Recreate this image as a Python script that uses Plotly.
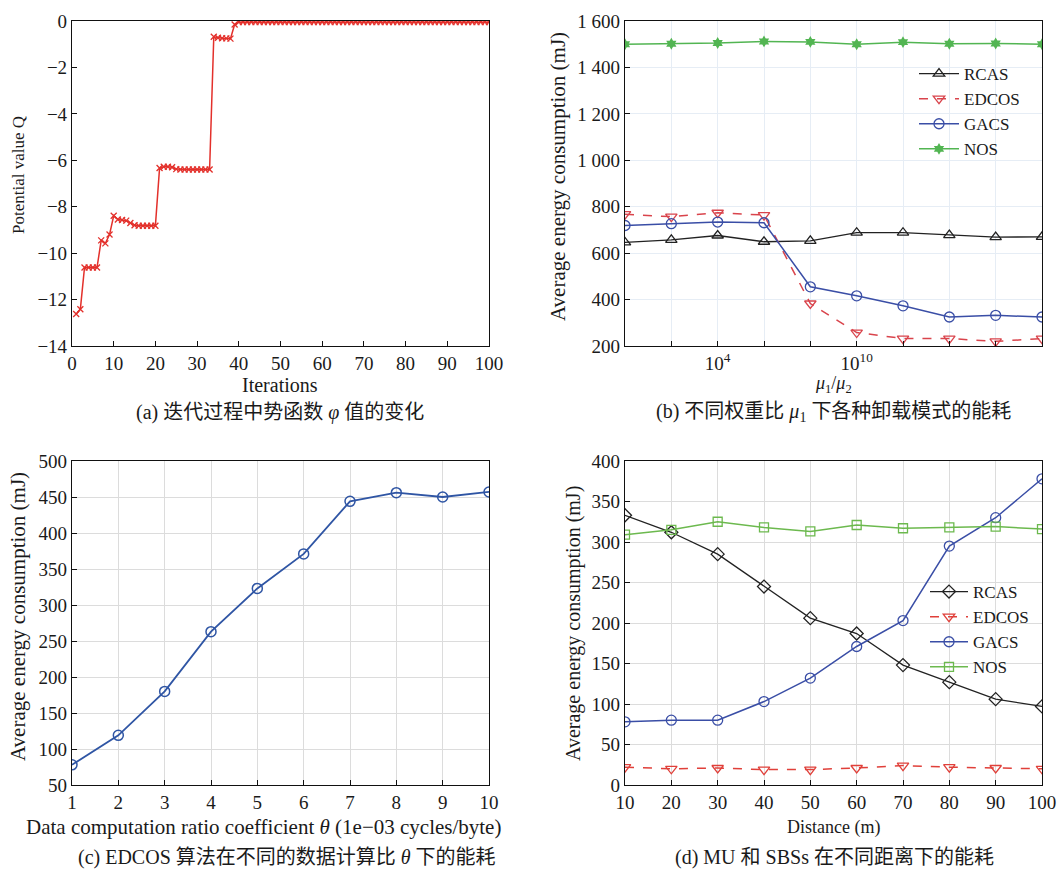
import plotly.graph_objects as go

# ---------------- data ----------------
# (a) potential value over iterations
iters = list(range(1, 101))
potential_q = [
    -12.62, -12.42, -10.62, -10.62, -10.62, -10.62, -9.45, -9.58, -9.20, -8.39,
    -8.55, -8.57, -8.60, -8.70, -8.80, -8.82, -8.82, -8.82, -8.82, -8.82,
    -6.33, -6.28, -6.28, -6.30, -6.38, -6.40, -6.40, -6.40, -6.40, -6.40,
    -6.40, -6.40, -6.40, -0.68, -0.72, -0.74, -0.75, -0.76, -0.15, -0.05,
    -0.05, -0.05, -0.05, -0.05, -0.05, -0.05, -0.05, -0.05, -0.05, -0.05,
    -0.05, -0.05, -0.05, -0.05, -0.05, -0.05, -0.05, -0.05, -0.05, -0.05,
    -0.05, -0.05, -0.05, -0.05, -0.05, -0.05, -0.05, -0.05, -0.05, -0.05,
    -0.05, -0.05, -0.05, -0.05, -0.05, -0.05, -0.05, -0.05, -0.05, -0.05,
    -0.05, -0.05, -0.05, -0.05, -0.05, -0.05, -0.05, -0.05, -0.05, -0.05,
    -0.05, -0.05, -0.05, -0.05, -0.05, -0.05, -0.05, -0.05, -0.05, -0.05,
]

# (b) weight ratio mu1/mu2
mu_ratio = [1e0, 1e2, 1e4, 1e6, 1e8, 1e10, 1e12, 1e14, 1e16, 1e18]
b_rcas = [646, 657, 676, 649, 653, 688, 688, 678, 669, 670]
b_edcos = [768, 757, 774, 764, 383, 258, 232, 232, 220, 232]
b_gacs = [719, 727, 734, 731, 455, 416, 373, 325, 332, 325]
b_nos = [1500, 1502, 1505, 1512, 1510, 1500, 1509, 1502, 1503, 1500]
b_yticks = [200, 400, 600, 800, 1000, 1200, 1400, 1600]
b_yticktext = ["200", "400", "600", "800", "1 000", "1 200", "1 400", "1 600"]
b_xticktext = ["", "", "10<sup>4</sup>", "", "", "10<sup>10</sup>", "", "", "", ""]

# (c) data computation ratio coefficient
theta = [1, 2, 3, 4, 5, 6, 7, 8, 9, 10]
c_energy = [78, 119, 180, 263, 323, 371, 444, 456, 450, 457]

# (d) distance
distance = [10, 20, 30, 40, 50, 60, 70, 80, 90, 100]
d_rcas = [333, 312, 285, 245, 206, 187, 148, 127, 106, 97]
d_edcos = [22, 20, 21, 19, 19, 21, 24, 22, 21, 20]
d_gacs = [78, 80, 80, 103, 132, 171, 203, 295, 330, 378]
d_nos = [309, 315, 325, 318, 313, 321, 317, 318, 319, 316]

captions = [
    "(a) 迭代过程中势函数 <i>φ</i> 值的变化",
    "(b) 不同权重比 <i>μ</i><sub>1</sub> 下各种卸载模式的能耗",
    "(c) EDCOS 算法在不同的数据计算比 <i>θ</i> 下的能耗",
    "(d) MU 和 SBSs 在不同距离下的能耗",
]
x_titles = [
    "Iterations",
    "<i>μ</i><sub>1</sub>/<i>μ</i><sub>2</sub>",
    "Data computation ratio coefficient <i>θ</i> (1e−03 cycles/byte)",
    "Distance (m)",
]
y_titles = [
    "Potential value Q",
    "Average energy consumption (mJ)",
    "Average energy consumption (mJ)",
    "Average energy consumption (mJ)",
]

# ---------------- styling ----------------
FONT = "Liberation Serif, Times New Roman, serif"
CAP_FONT = "Liberation Serif, Noto Sans CJK SC, serif"
W, H = 1059, 869
TXT = "#1a1a1a"

def px_x(p):
    return p / W

def px_y(p):
    return 1 - p / H

c_red_a = "#e3302b"
c_black = "#222222"
c_red = "#d9444c"
c_blue = "#3a4ea6"
c_green_b = "#52b552"
c_blue_c = "#2f55a4"
c_green_d = "#6cb94e"
c_red_d = "#e0403a"

fig = go.Figure()

# (a)
fig.add_trace(go.Scatter(
    x=iters, y=potential_q, mode="lines+markers",
    line=dict(color=c_red_a, width=1.5),
    marker=dict(symbol="x-thin-open", size=6, line=dict(color=c_red_a, width=1.3)),
    xaxis="x", yaxis="y", showlegend=False))

# (b)
fig.add_trace(go.Scatter(x=mu_ratio, y=b_rcas, name="RCAS", mode="lines+markers",
    line=dict(color=c_black, width=1.3),
    marker=dict(symbol="triangle-up-open", size=10, line=dict(color=c_black, width=1.3)),
    xaxis="x2", yaxis="y2", legend="legend"))
fig.add_trace(go.Scatter(x=mu_ratio, y=b_edcos, name="EDCOS", mode="lines+markers",
    line=dict(color=c_red, width=1.5, dash="dash"),
    marker=dict(symbol="triangle-down-open", size=10, line=dict(color=c_red, width=1.3)),
    xaxis="x2", yaxis="y2", legend="legend"))
fig.add_trace(go.Scatter(x=mu_ratio, y=b_gacs, name="GACS", mode="lines+markers",
    line=dict(color=c_blue, width=1.5),
    marker=dict(symbol="circle-open", size=10, line=dict(color=c_blue, width=1.3)),
    xaxis="x2", yaxis="y2", legend="legend"))
fig.add_trace(go.Scatter(x=mu_ratio, y=b_nos, name="NOS", mode="lines+markers",
    line=dict(color=c_green_b, width=1.5),
    marker=dict(symbol="hexagram", size=9, color=c_green_b),
    xaxis="x2", yaxis="y2", legend="legend"))

# (c)
fig.add_trace(go.Scatter(x=theta, y=c_energy, mode="lines+markers",
    line=dict(color=c_blue_c, width=1.8),
    marker=dict(symbol="circle-open", size=10, line=dict(color=c_blue_c, width=1.5)),
    xaxis="x3", yaxis="y3", showlegend=False))

# (d)
fig.add_trace(go.Scatter(x=distance, y=d_rcas, name="RCAS", mode="lines+markers",
    line=dict(color=c_black, width=1.3),
    marker=dict(symbol="diamond-open", size=10, line=dict(color=c_black, width=1.3)),
    xaxis="x4", yaxis="y4", legend="legend2"))
fig.add_trace(go.Scatter(x=distance, y=d_edcos, name="EDCOS", mode="lines+markers",
    line=dict(color=c_red_d, width=1.5, dash="dash"),
    marker=dict(symbol="triangle-down-open", size=10, line=dict(color=c_red_d, width=1.3)),
    xaxis="x4", yaxis="y4", legend="legend2"))
fig.add_trace(go.Scatter(x=distance, y=d_gacs, name="GACS", mode="lines+markers",
    line=dict(color=c_blue, width=1.5),
    marker=dict(symbol="circle-open", size=10, line=dict(color=c_blue, width=1.3)),
    xaxis="x4", yaxis="y4", legend="legend2"))
fig.add_trace(go.Scatter(x=distance, y=d_nos, name="NOS", mode="lines+markers",
    line=dict(color=c_green_d, width=1.5),
    marker=dict(symbol="square-open", size=9, line=dict(color=c_green_d, width=1.3)),
    xaxis="x4", yaxis="y4", legend="legend2"))

axis_common = dict(
    showline=True, linecolor="#111111", linewidth=1.2, mirror=True,
    ticks="inside", ticklen=5, tickcolor="#111111",
    tickfont=dict(family=FONT, size=19, color=TXT),
    zeroline=False, automargin=False,
)

dom_left = [px_x(72), px_x(489)]
dom_right = [px_x(625), px_x(1042)]
dom_top = [px_y(346), px_y(21)]
dom_bot = [px_y(785), px_y(461)]

fig.update_layout(
    width=W, height=H,
    margin=dict(l=0, r=0, t=0, b=0, autoexpand=False),
    paper_bgcolor="white", plot_bgcolor="white",
    font=dict(family=FONT, size=18, color=TXT),
    # (a)
    xaxis=dict(domain=dom_left, anchor="y", range=[0, 100], tickvals=list(range(0, 101, 10)),
               showgrid=False, **axis_common),
    yaxis=dict(domain=dom_top, anchor="x", range=[-14, 0], tickvals=list(range(-14, 1, 2)),
               showgrid=False, **axis_common),
    # (b)
    xaxis2=dict(domain=dom_right, anchor="y2", type="log", range=[0, 18],
                tickvals=mu_ratio, ticktext=b_xticktext,
                showgrid=True, gridcolor="#e6edf5", gridwidth=1, **axis_common),
    yaxis2=dict(domain=dom_top, anchor="x2", range=[200, 1600], tickvals=b_yticks,
                ticktext=b_yticktext,
                showgrid=True, gridcolor="#e6edf5", gridwidth=1, **axis_common),
    # (c)
    xaxis3=dict(domain=dom_left, anchor="y3", range=[1, 10], tickvals=theta,
                showgrid=True, gridcolor="#dcdcdc", gridwidth=1, **axis_common),
    yaxis3=dict(domain=dom_bot, anchor="x3", range=[50, 500], tickvals=list(range(50, 501, 50)),
                showgrid=True, gridcolor="#dcdcdc", gridwidth=1, **axis_common),
    # (d)
    xaxis4=dict(domain=dom_right, anchor="y4", range=[10, 100], tickvals=distance,
                showgrid=True, gridcolor="#dcdcdc", gridwidth=1, **axis_common),
    yaxis4=dict(domain=dom_bot, anchor="x4", range=[0, 400], tickvals=list(range(0, 401, 50)),
                showgrid=True, gridcolor="#dcdcdc", gridwidth=1, **axis_common),
    legend=dict(x=px_x(914), y=px_y(56), xanchor="left", yanchor="top",
                bgcolor="rgba(255,255,255,0)", borderwidth=0,
                font=dict(family=FONT, size=17, color=TXT),
                tracegroupgap=0, itemwidth=40),
    legend2=dict(x=px_x(925), y=px_y(574), xanchor="left", yanchor="top",
                 bgcolor="rgba(255,255,255,0)", borderwidth=0,
                 font=dict(family=FONT, size=17, color=TXT),
                 tracegroupgap=0, itemwidth=38),
)

# captions
cap_pos = [(280, 413), (833, 413), (287, 857), (834, 857)]
for text, (cx, cy) in zip(captions, cap_pos):
    fig.add_annotation(text=text, x=px_x(cx), y=px_y(cy), xref="paper", yref="paper",
                       showarrow=False, xanchor="center", yanchor="middle",
                       font=dict(family=CAP_FONT, size=20, color=TXT))

# x-axis titles
xt_pos = [(280, 385, 20), (833, 384, 18), (263, 827, 21), (833, 827, 18)]
for text, (cx, cy, fs) in zip(x_titles, xt_pos):
    fig.add_annotation(text=text, x=px_x(cx), y=px_y(cy), xref="paper", yref="paper",
                       showarrow=False, xanchor="center", yanchor="middle",
                       font=dict(family=FONT, size=fs, color=TXT))

# y-axis titles
yt_pos = [(18, 175, 17), (558, 177, 21), (18, 617, 21), (573, 624, 20)]
for text, (cx, cy, fs) in zip(y_titles, yt_pos):
    fig.add_annotation(text=text, x=px_x(cx), y=px_y(cy), xref="paper", yref="paper",
                       showarrow=False, xanchor="center", yanchor="middle", textangle=-90,
                       font=dict(family=FONT, size=fs, color=TXT))

# place the figure flush with the window corner (remove the default body margin)
fig.write_html("out.html", config={"displayModeBar": False},
               post_script="document.body.style.margin='0px';")
